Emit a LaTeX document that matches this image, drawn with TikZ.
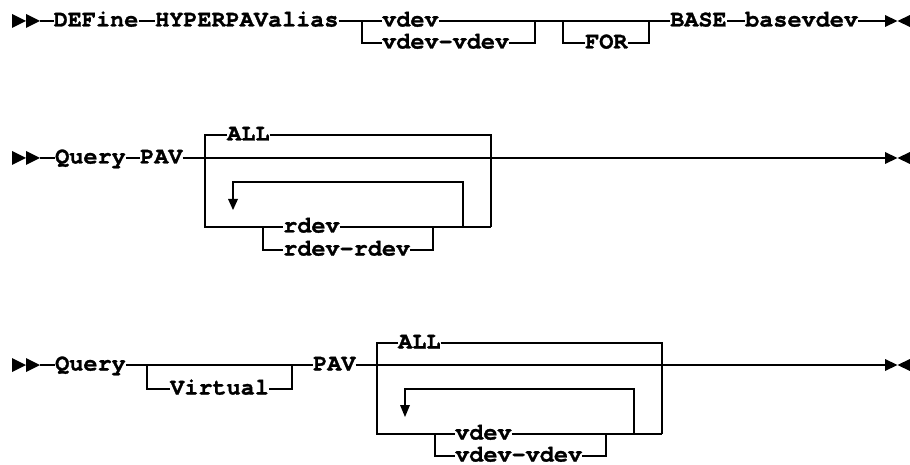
\documentclass[tikz,border=0pt]{standalone}
\usepackage{fontspec}
\newfontfamily\kwfont{texgyrecursor}[Extension=.otf, UprightFont=*-bold, BoldFont=*-bold, FakeBold=1.2]
\tikzset{
  kw/.style={font=\kwfont\fontsize{23.5pt}{28pt}\selectfont, inner sep=0pt, anchor=west, text height=14pt, text depth=3pt},
  rr/.style={line width=1.6pt, line join=miter},
  startmark/.pic={\fill (0,-7) -- (14,0) -- (0,7) -- cycle;
                  \fill (14,-7) -- (28,0) -- (14,7) -- cycle;
                  \coordinate (-out) at (28,0);},
  endmark/.pic={\fill (0,-6) -- (12.5,0) -- (0,6) -- cycle;
                \fill (25,-6) -- (12.5,0) -- (25,6) -- cycle;
                \coordinate (-in) at (0,0);},
}
\begin{document}
\begin{tikzpicture}[x=1pt,y=-1pt]
\useasboundingbox (0,0) rectangle (910,465);
% ---------- Row 1 ----------
\pic (s1) at (12,21) {startmark};
\node[kw] (define) at (53.5,21) {DEFine};
\node[kw] (hyper) at (155,21) {HYPERPAValias};
\coordinate (j1) at (362,21);
\node[kw] (vdev1) at (382,21) {vdev};
\node[kw] (vdevr1) at (382,43) {vdev-vdev};
\coordinate (j2) at (535,21);
\coordinate (j3) at (563,21);
\node[kw] (for) at (585,43) {FOR};
\coordinate (j4) at (649,21);
\node[kw] (base) at (670,21) {BASE};
\node[kw] (basevdev) at (745,21) {basevdev};
\pic (e1) at (885,21) {endmark};
\draw[rr] (s1-out) -- (define.west);
\draw[rr] (define.east) -- (hyper.west);
\draw[rr] (hyper.east) -- (vdev1.west);
\draw[rr] (j1) |- (vdevr1.west);
\draw[rr] (vdev1.east) -- (base.west);
\draw[rr] (vdevr1.east) -| (j2);
\draw[rr] (j3) |- (for.west);
\draw[rr] (for.east) -| (j4);
\draw[rr] (base.east) -- (basevdev.west);
\draw[rr] (basevdev.east) -- (e1-in);
% ---------- Row 2 ----------
\pic (s2) at (12,158) {startmark};
\node[kw] (query2) at (55,158) {Query};
\node[kw] (pav2) at (140,158) {PAV};
\node[kw] (all2) at (227,135) {ALL};
\coordinate (b2L) at (205,227);
\coordinate (b2R) at (491,227);
\coordinate (c2L) at (263,227);
\coordinate (c2R) at (433,227);
\node[kw] (rdev2) at (283,227) {rdev};
\node[kw] (rdevr2) at (283,250) {rdev-rdev};
\coordinate (l2R) at (463,227);
\coordinate (l2T) at (463,182);
\coordinate (l2a) at (233,199);
\pic (e2) at (885,158) {endmark};
\draw[rr] (s2-out) -- (query2.west);
\draw[rr] (query2.east) -- (pav2.west);
\draw[rr] (pav2.east) -- (e2-in);
\draw[rr] (all2.west) -| (b2L) -- (rdev2.west);
\draw[rr] (all2.east) -| (b2R);
\draw[rr] (rdev2.east) -- (b2R);
\draw[rr] (c2L) |- (rdevr2.west);
\draw[rr] (rdevr2.east) -| (c2R);
\draw[rr] (l2R) -- (l2T) -| (l2a);
\fill (l2a) ++(-5,0) -- ++(10,0) -- ++(-5,11) -- cycle;
% ---------- Row 3 ----------
\pic (s3) at (12,365) {startmark};
\node[kw] (query3) at (55,365) {Query};
\coordinate (v3L) at (147,365);
\node[kw] (virtual3) at (170,389) {Virtual};
\coordinate (v3R) at (292,365);
\node[kw] (pav3) at (313,365) {PAV};
\node[kw] (all3) at (398,343) {ALL};
\coordinate (b3L) at (377,434);
\coordinate (b3R) at (662,434);
\coordinate (c3L) at (435,434);
\coordinate (c3R) at (606,434);
\node[kw] (vdev3) at (455,434) {vdev};
\node[kw] (vdevr3) at (455,456) {vdev-vdev};
\coordinate (l3R) at (634,434);
\coordinate (l3T) at (634,389);
\coordinate (l3a) at (405,405);
\pic (e3) at (885,365) {endmark};
\draw[rr] (s3-out) -- (query3.west);
\draw[rr] (query3.east) -- (pav3.west);
\draw[rr] (v3L) |- (virtual3.west);
\draw[rr] (virtual3.east) -| (v3R);
\draw[rr] (pav3.east) -- (e3-in);
\draw[rr] (all3.west) -| (b3L) -- (vdev3.west);
\draw[rr] (all3.east) -| (b3R);
\draw[rr] (vdev3.east) -- (b3R);
\draw[rr] (c3L) |- (vdevr3.west);
\draw[rr] (vdevr3.east) -| (c3R);
\draw[rr] (l3R) -- (l3T) -| (l3a);
\fill (l3a) ++(-5,0) -- ++(10,0) -- ++(-5,12) -- cycle;
\end{tikzpicture}
\end{document}
